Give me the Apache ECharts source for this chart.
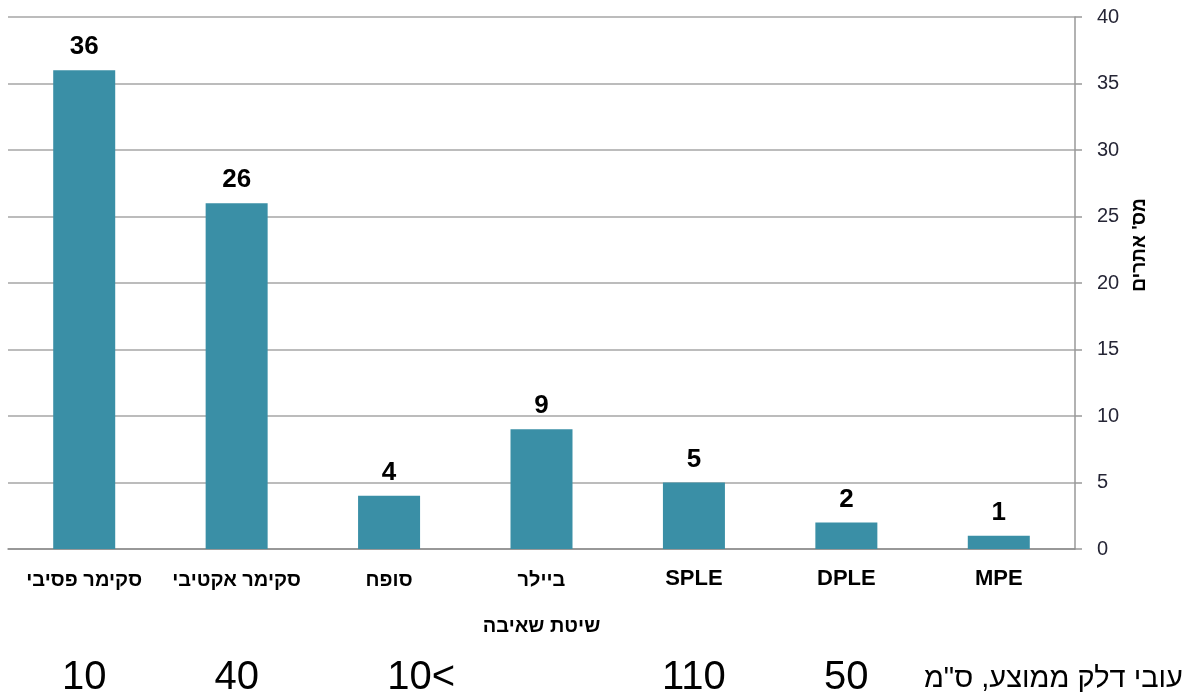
<!DOCTYPE html>
<html><head><meta charset="utf-8">
<script src="https://cdn.jsdelivr.net/npm/echarts@6/dist/echarts.min.js"></script>
<style>html,body{margin:0;padding:0;background:#fff}#c{width:1195px;height:698px}</style>
</head><body><div id="c"></div>
<script>
const categories = ['סקימר פסיבי', 'סקימר אקטיבי', 'סופח', 'ביילר', 'SPLE', 'DPLE', 'MPE'];
const siteCounts = [36, 26, 4, 9, 5, 2, 1];
const thicknessLabels = ['10', '40', '10<', '', '110', '50', ''];
const yTicks = [0, 5, 10, 15, 20, 25, 30, 35, 40];
const xAxisTitle = 'שיטת שאיבה';
const yAxisTitle = "מס' אתרים";
const thicknessTitle = 'עובי דלק ממוצע, ס"מ';

const chart = echarts.init(document.getElementById('c'), null, {renderer: 'canvas'});
chart.setOption({
  animation: false,
  backgroundColor: '#fff',
  grid: {left: 8, right: 120, top: 17, bottom: 149, containLabel: false},
  xAxis: [{
    type: 'category', data: categories, position: 'bottom',
    axisLine: {lineStyle: {color: '#8c8c8c', width: 1.5}},
    axisTick: {show: false},
    axisLabel: {
      margin: 14, color: '#000', interval: 0,
      formatter: v => /^[A-Z]+$/.test(v) ? '{n|' + v + '}' : '{h|' + v + '}',
      rich: {
        n: {fontWeight: 'bold', fontSize: 22, lineHeight: 32, fontFamily: '"Liberation Sans Narrow", "Liberation Sans", Arial', color: '#000'},
        h: {fontWeight: 'bold', fontSize: 20, lineHeight: 34, fontFamily: '"Liberation Sans", Arial', color: '#000'}
      }
    },
    name: xAxisTitle, nameLocation: 'middle', nameGap: 67,
    nameTextStyle: {fontSize: 20, fontWeight: 'bold', color: '#000', fontFamily: 'Liberation Sans, Arial'}
  }, {
    type: 'category', data: thicknessLabels, position: 'bottom', offset: 109,
    axisLine: {show: false}, axisTick: {show: false},
    axisLabel: {fontSize: 40, color: '#000', fontFamily: 'Liberation Sans, Arial', margin: 0, interval: 0, hideOverlap: false,
      formatter: v => v === '10<' ? '{s|' + v + '}' : v,
      rich: {s: {fontSize: 40, color: '#000', fontFamily: 'Liberation Sans, Arial', padding: [0, 0, 0, 64]}}}
  }],
  yAxis: {
    type: 'value', position: 'right', min: 0, max: 40, interval: 5,
    axisLine: {show: true, lineStyle: {color: '#999', width: 1.5}},
    axisTick: {show: true, length: 7, lineStyle: {color: '#999', width: 1.5}},
    axisLabel: {fontSize: 20, color: '#262636', margin: 22, fontFamily: 'Liberation Sans, Arial',
      formatter: v => yTicks.includes(v) ? String(v) : ''},
    splitLine: {show: true, lineStyle: {color: '#a6a6a6', width: 1.5}}
  },
  series: [{
    type: 'bar', data: siteCounts, barWidth: 62, xAxisIndex: 0,
    itemStyle: {color: '#3a8fa6'},
    label: {show: true, position: 'top', distance: 10, fontSize: 26, fontWeight: 'bold', color: '#000',
      fontFamily: 'Liberation Sans, Arial'}
  }, {
    type: 'bar', data: thicknessLabels.map(() => null), xAxisIndex: 1, silent: true
  }],
  graphic: [{
    type: 'text', right: 12, top: 664,
    style: {text: thicknessTitle, fontSize: 29, fill: '#000', fontFamily: 'Liberation Sans, Arial'}
  }, {
    type: 'text', x: 1140, y: 245, rotation: Math.PI / 2,
    style: {text: yAxisTitle, fontSize: 19, fontWeight: 'bold', fill: '#000', align: 'center', verticalAlign: 'middle',
      fontFamily: 'Liberation Sans, Arial'}
  }]
});
</script></body></html>
